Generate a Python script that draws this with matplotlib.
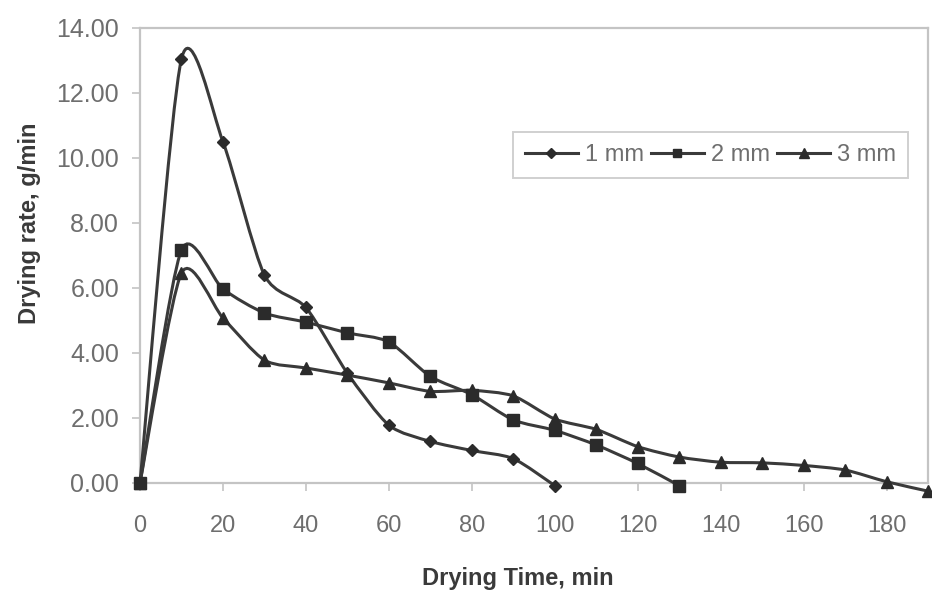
import matplotlib
matplotlib.use("Agg")
import matplotlib.pyplot as plt
import numpy as np
from matplotlib.path import Path
from matplotlib.patches import PathPatch
from matplotlib.ticker import FormatStrFormatter

# drying rate (g/min) vs drying time (min)
t_1mm = [0, 10, 20, 30, 40, 50, 60, 70, 80, 90, 100]
rate_1mm = [0, 13.05, 10.5, 6.4, 5.4, 3.38, 1.78, 1.28, 1.0, 0.75, -0.08]

t_2mm = [0, 10, 20, 30, 40, 50, 60, 70, 80, 90, 100, 110, 120, 130]
rate_2mm = [0, 7.17, 5.97, 5.23, 4.95, 4.62, 4.34, 3.28, 2.72, 1.94, 1.62, 1.17, 0.6, -0.08]

t_3mm = [0, 10, 20, 30, 40, 50, 60, 70, 80, 90, 100, 110, 120, 130, 140, 150,
         160, 170, 180, 190]
rate_3mm = [0, 6.46, 5.08, 3.78, 3.54, 3.32, 3.08, 2.82, 2.85, 2.68, 1.97, 1.65,
            1.12, 0.8, 0.64, 0.62, 0.54, 0.4, 0.04, -0.25]

labels = ["1 mm", "2 mm", "3 mm"]
markers = ["D", "s", "^"]
msizes = [6.5, 8, 8.5]

x_ticks = list(range(0, 181, 20))
y_ticks = list(range(0, 15, 2))

LINE = "#3a3a3a"
GRAY = "#6e6e6e"
FRAME = "#c4c4c4"
FONT = ["Liberation Sans", "DejaVu Sans"]


def smooth_path(x, y, t=0.125):
    # Excel-like smoothed line: Catmull-Rom segments as cubic beziers
    p = np.column_stack([x, y]).astype(float)
    n = len(p)
    verts = [p[0]]
    codes = [Path.MOVETO]
    for i in range(n - 1):
        p0 = p[i - 1] if i > 0 else p[i]
        p3 = p[i + 2] if i + 2 < n else p[i + 1]
        c1 = p[i] + (p[i + 1] - p0) * t
        c2 = p[i + 1] - (p3 - p[i]) * t
        verts += [c1, c2, p[i + 1]]
        codes += [Path.CURVE4] * 3
    return Path(verts, codes)


fig = plt.figure(figsize=(9.32, 5.93), dpi=100)
ax = fig.add_axes([0.1502, 0.1855, 0.8455, 0.7673])

series = [(t_1mm, rate_1mm), (t_2mm, rate_2mm), (t_3mm, rate_3mm)]
for (x, y), lab, m, ms in zip(series, labels, markers, msizes):
    patch = PathPatch(smooth_path(x, y), facecolor="none", edgecolor=LINE,
                      lw=2.2, transform=ax.transData, clip_on=False, zorder=3)
    ax.add_patch(patch)
    ax.plot(x, y, linestyle="none", marker=m, ms=ms, color="#2b2b2b",
            clip_on=False, zorder=4)
    # legend proxy
    ax.plot([], [], color=LINE, lw=2.2, marker=m, ms=ms * 0.8,
            markerfacecolor="#2b2b2b", markeredgecolor="#2b2b2b", label=lab)

ax.set_xlim(0, 190)
ax.set_ylim(0, 14)
ax.set_xticks(x_ticks)
ax.set_yticks(y_ticks)
ax.yaxis.set_major_formatter(FormatStrFormatter("%.2f"))

for s in ax.spines.values():
    s.set_color(FRAME)
    s.set_linewidth(1.6)

ax.tick_params(axis="both", colors=FRAME, length=6, width=1.2, direction="out")
for lbl in ax.get_xticklabels():
    lbl.set_color(GRAY)
    lbl.set_fontsize(17)
    lbl.set_family(FONT)
for lbl in ax.get_yticklabels():
    lbl.set_color(GRAY)
    lbl.set_fontsize(18)
    lbl.set_family(FONT)
ax.tick_params(axis="x", pad=17)
ax.tick_params(axis="y", pad=9)

ax.set_xlabel("Drying Time, min", fontsize=17, fontweight="bold",
              color="#3a3a3a", family=FONT)
ax.set_ylabel("Drying rate, g/min", fontsize=17, fontweight="bold",
              color="#3a3a3a", family=FONT)
ax.xaxis.set_label_coords(0.48, -0.185)
ax.yaxis.set_label_coords(-0.125, 0.57)

leg = ax.legend(loc="upper left", bbox_to_anchor=(0.473, 0.771), ncol=3,
                frameon=True, fancybox=False, handlelength=2.25,
                handletextpad=0.3, columnspacing=0.3, borderpad=0.5,
                borderaxespad=0, prop={"family": FONT, "size": 17})
leg.get_frame().set_edgecolor(FRAME)
leg.get_frame().set_linewidth(1.4)
for txt in leg.get_texts():
    txt.set_color(GRAY)

fig.savefig("out.png", dpi=100)
